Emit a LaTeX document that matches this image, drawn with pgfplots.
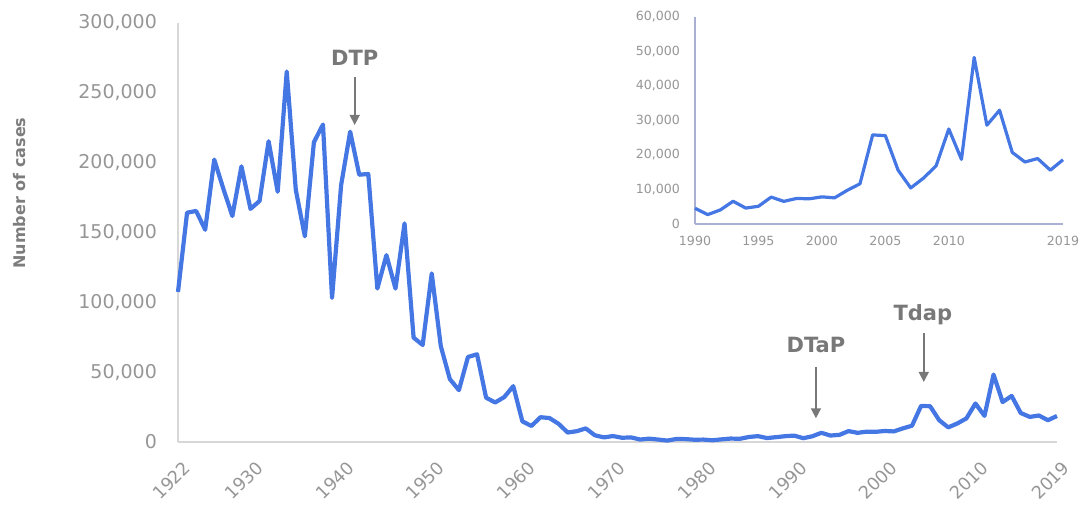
\documentclass[border=0pt]{standalone}
\usepackage{fontspec}
\setmainfont{DejaVu Sans}
\usepackage{pgfplots}
\pgfplotsset{compat=1.18}
\usepackage{pgfplotstable}
\usetikzlibrary{arrows.meta}
\definecolor{lineblue}{RGB}{68,118,228}
\definecolor{tickgray}{RGB}{150,150,150}
\definecolor{axgray}{RGB}{215,215,215}
\definecolor{insetax}{RGB}{170,175,212}
\definecolor{anngray}{RGB}{120,120,120}
\definecolor{labgray}{RGB}{125,125,125}

\pgfplotstableread{
year cases
1922 107473
1923 164191
1924 165418
1925 152003
1926 202210
1927 181411
1928 161799
1929 197371
1930 166914
1931 172559
1932 215343
1933 179135
1934 265269
1935 180518
1936 147237
1937 214652
1938 227319
1939 103188
1940 183866
1941 222202
1942 191383
1943 191890
1944 109873
1945 133792
1946 109860
1947 156517
1948 74715
1949 69479
1950 120718
1951 68687
1952 45030
1953 37129
1954 60886
1955 62786
1956 31732
1957 28295
1958 32148
1959 40005
1960 14809
1961 11468
1962 17749
1963 17135
1964 13005
1965 6799
1966 7717
1967 9718
1968 4810
1969 3285
1970 4249
1971 3036
1972 3287
1973 1759
1974 2402
1975 1738
1976 1010
1977 2177
1978 2063
1979 1623
1980 1730
1981 1248
1982 1895
1983 2463
1984 2276
1985 3589
1986 4195
1987 2823
1988 3450
1989 4157
1990 4570
1991 2719
1992 4083
1993 6586
1994 4617
1995 5137
1996 7796
1997 6564
1998 7405
1999 7298
2000 7867
2001 7580
2002 9771
2003 11647
2004 25827
2005 25616
2006 15632
2007 10454
2008 13278
2009 16858
2010 27550
2011 18719
2012 48277
2013 28639
2014 32971
2015 20762
2016 17972
2017 18975
2018 15609
2019 18617
}\pertussis

\begin{document}
\begin{tikzpicture}
\path[use as bounding box] (0,0) rectangle (541pt,252pt);
\begin{axis}[
  at={(89pt,31pt)}, anchor=south west,
  scale only axis, width=439.5pt, height=209.5pt,
  xmin=1922, xmax=2019, ymin=0, ymax=300000,
  scaled ticks=false,
  axis x line*=bottom, axis y line*=left,
  axis line style={axgray, line width=0.8pt},
  major tick length=0pt,
  xtick={1922,1930,1940,1950,1960,1970,1980,1990,2000,2010,2019},
  xticklabels={1922,1930,1940,1950,1960,1970,1980,1990,2000,2010,2019},
  ytick={0,50000,100000,150000,200000,250000,300000},
  yticklabels={0,{50,000},{100,000},{150,000},{200,000},{250,000},{300,000}},
  tick label style={text=tickgray, font=\fontsize{9.5}{11}\selectfont},
  yticklabel style={xshift=-7pt},
  xticklabel style={xshift=5.5pt, yshift=-10.5pt, rotate=45, anchor=east, inner sep=1pt, font=\fontsize{8.8}{10}\selectfont},
  clip=false,
]
\addplot[lineblue, line width=2.1pt, line join=round] table[x=year,y=cases]{\pertussis};
\draw[anngray, line width=0.8pt, -{Triangle[length=5pt,width=5pt]}] (axis cs:1941.5,261000) -- (axis cs:1941.5,227000);
\node[anngray, font=\bfseries\fontsize{10.5}{12}\selectfont] at (axis cs:1941.5,275000) {DTP};
\draw[anngray, line width=0.8pt, -{Triangle[length=5pt,width=5pt]}] (axis cs:1992.4,54000) -- (axis cs:1992.4,17000);
\node[anngray, font=\bfseries\fontsize{10.5}{12}\selectfont] at (axis cs:1992.4,69500) {DTaP};
\draw[anngray, line width=0.8pt, -{Triangle[length=5pt,width=5pt]}] (axis cs:2004.3,78000) -- (axis cs:2004.3,43000);
\node[anngray, font=\bfseries\fontsize{10.5}{12}\selectfont] at (axis cs:2004.2,91000) {Tdap};
\end{axis}
\node[rotate=90, text=labgray, font=\bfseries\fontsize{8}{10}\selectfont] at (10pt,155.5pt) {Number of cases};
\begin{axis}[
  at={(347.5pt,140pt)}, anchor=south west,
  scale only axis, width=184pt, height=103.5pt,
  xmin=1990, xmax=2019, ymin=0, ymax=60000,
  scaled ticks=false,
  axis x line*=bottom, axis y line*=left,
  axis line style={insetax, line width=0.7pt},
  major tick length=0pt,
  xtick={1990,1995,2000,2005,2010,2019},
  xticklabels={1990,1995,2000,2005,2010,2019},
  ytick={0,10000,20000,30000,40000,50000,60000},
  yticklabels={0,{10,000},{20,000},{30,000},{40,000},{50,000},{60,000}},
  tick label style={text=tickgray, font=\fontsize{6.3}{7}\selectfont},
  yticklabel style={xshift=-4pt},
  xticklabel style={yshift=-2.5pt},
  clip=false,
]
\addplot[lineblue, line width=1.6pt, line join=round, restrict x to domain=1990:2019] table[x=year,y=cases]{\pertussis};
\end{axis}
\end{tikzpicture}
\end{document}
